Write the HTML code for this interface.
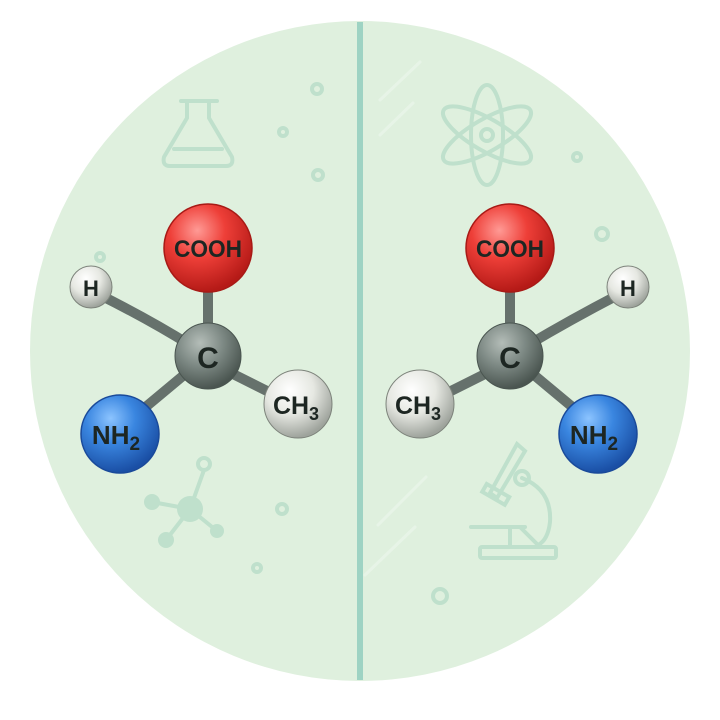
<!DOCTYPE html>
<html><head><meta charset="utf-8"><style>
html,body{margin:0;padding:0;background:#fff;}
svg{display:block;}
text{font-family:"Liberation Sans",sans-serif;font-weight:bold;fill:#1d2622;}
</style></head><body>
<svg width="720" height="720" viewBox="0 0 720 720" xmlns="http://www.w3.org/2000/svg">
<defs>
<radialGradient id="gr" cx="38%" cy="30%" r="70%"><stop offset="0" stop-color="#ff9a95"/><stop offset="0.45" stop-color="#ee3f38"/><stop offset="1" stop-color="#b51a17"/></radialGradient>
<radialGradient id="gb" cx="38%" cy="30%" r="70%"><stop offset="0" stop-color="#8cc4ff"/><stop offset="0.45" stop-color="#3a86e0"/><stop offset="1" stop-color="#1a4fa5"/></radialGradient>
<radialGradient id="gc" cx="38%" cy="30%" r="70%"><stop offset="0" stop-color="#b4bdb8"/><stop offset="0.5" stop-color="#7d8984"/><stop offset="1" stop-color="#4a5550"/></radialGradient>
<radialGradient id="gw" cx="38%" cy="30%" r="70%"><stop offset="0" stop-color="#ffffff"/><stop offset="0.5" stop-color="#e6e8e2"/><stop offset="1" stop-color="#9ea39c"/></radialGradient>
</defs>
<circle cx="360" cy="351" r="330" fill="#dff0de"/>
<g stroke="#bfe0cc" stroke-width="4" fill="none" stroke-linecap="round">
 <line x1="181" y1="101" x2="217" y2="101"/>
 <path d="M187 102 V118 L164 157 Q162 166 170 166 H226 Q234 166 232 157 L209 118 V102"/>
 <line x1="174" y1="149" x2="222" y2="149"/>
 <circle cx="317" cy="89" r="5"/><circle cx="283" cy="132" r="4"/><circle cx="318" cy="175" r="5"/>
 <circle cx="100" cy="257" r="4"/>
 <line x1="190" y1="509" x2="204" y2="470"/><line x1="190" y1="509" x2="152" y2="502"/>
 <line x1="190" y1="509" x2="166" y2="540"/><line x1="190" y1="509" x2="217" y2="531"/>
 <circle cx="204" cy="464" r="6"/>
 <circle cx="282" cy="509" r="5"/><circle cx="257" cy="568" r="4"/>
 <ellipse cx="487" cy="135" rx="16" ry="50"/>
 <ellipse cx="487" cy="135" rx="16" ry="50" transform="rotate(60 487 135)"/>
 <ellipse cx="487" cy="135" rx="16" ry="50" transform="rotate(-60 487 135)"/>
 <circle cx="487" cy="135" r="6"/>
 <circle cx="577" cy="157" r="4"/><circle cx="602" cy="234" r="6"/>
 <rect x="480" y="547" width="76" height="11" rx="2"/>
 <line x1="471" y1="527" x2="525" y2="527"/>
 <line x1="510" y1="527" x2="510" y2="547"/>
 <path d="M522 478 Q552 490 550 522 Q548 540 538 545"/>
 <line x1="521" y1="528" x2="538" y2="545"/>
 <path d="M517 444 L525 451 L497 498 L490 493 Z"/>
 <rect x="483" y="490" width="26" height="9" transform="rotate(30 496 494)"/>
 <circle cx="522" cy="478" r="7"/>
 <circle cx="440" cy="596" r="7"/>
</g>
<g fill="#bfe0cc">
 <circle cx="190" cy="509" r="13"/><circle cx="152" cy="502" r="8"/><circle cx="166" cy="540" r="8"/><circle cx="217" cy="531" r="7"/>
</g>
<g stroke="#eaf6ea" stroke-width="3" stroke-linecap="round" opacity="0.8">
 <line x1="380" y1="100" x2="420" y2="62"/><line x1="380" y1="135" x2="413" y2="103"/>
 <line x1="378" y1="525" x2="426" y2="477"/><line x1="365" y1="575" x2="415" y2="527"/>
</g>
<rect x="357" y="22" width="6" height="658" fill="#9ed3c3"/>
<g stroke="#66716c" stroke-width="10" stroke-linecap="round" fill="none">
 <line x1="208" y1="290" x2="208" y2="330"/>
 <path d="M100 295 Q150 320 190 345"/>
 <line x1="190" y1="370" x2="130" y2="420"/>
 <line x1="225" y1="370" x2="285" y2="400"/>
</g>
<circle cx="208" cy="248" r="44" fill="url(#gr)" stroke="#a81a16" stroke-width="1.5"/>
<circle cx="208" cy="356" r="33" fill="url(#gc)" stroke="#4a5550" stroke-width="1"/>
<circle cx="91" cy="287" r="21" fill="url(#gw)" stroke="#7d837b" stroke-width="1"/>
<circle cx="120" cy="434" r="39" fill="url(#gb)" stroke="#1a4a9a" stroke-width="1.5"/>
<circle cx="298" cy="404" r="34" fill="url(#gw)" stroke="#7d837b" stroke-width="1"/>
<text x="174" y="257" font-size="24" textLength="68" lengthAdjust="spacingAndGlyphs">COOH</text>
<text x="208" y="368" font-size="30" text-anchor="middle">C</text>
<text x="91" y="296" font-size="22" text-anchor="middle">H</text>
<text x="116" y="444" font-size="26" text-anchor="middle">NH<tspan font-size="19" dy="6">2</tspan></text>
<text x="296" y="414" font-size="25" text-anchor="middle">CH<tspan font-size="18" dy="6">3</tspan></text>
<g stroke="#66716c" stroke-width="10" stroke-linecap="round" fill="none">
 <line x1="510" y1="290" x2="510" y2="330"/>
 <path d="M618 295 Q570 320 528 345"/>
 <line x1="528" y1="370" x2="588" y2="420"/>
 <line x1="493" y1="370" x2="433" y2="400"/>
</g>
<circle cx="510" cy="248" r="44" fill="url(#gr)" stroke="#a81a16" stroke-width="1.5"/>
<circle cx="510" cy="356" r="33" fill="url(#gc)" stroke="#4a5550" stroke-width="1"/>
<circle cx="628" cy="287" r="21" fill="url(#gw)" stroke="#7d837b" stroke-width="1"/>
<circle cx="598" cy="434" r="39" fill="url(#gb)" stroke="#1a4a9a" stroke-width="1.5"/>
<circle cx="420" cy="404" r="34" fill="url(#gw)" stroke="#7d837b" stroke-width="1"/>
<text x="476" y="257" font-size="24" textLength="68" lengthAdjust="spacingAndGlyphs">COOH</text>
<text x="510" y="368" font-size="30" text-anchor="middle">C</text>
<text x="628" y="296" font-size="22" text-anchor="middle">H</text>
<text x="594" y="444" font-size="26" text-anchor="middle">NH<tspan font-size="19" dy="6">2</tspan></text>
<text x="418" y="414" font-size="25" text-anchor="middle">CH<tspan font-size="18" dy="6">3</tspan></text>
</svg>
</body></html>
